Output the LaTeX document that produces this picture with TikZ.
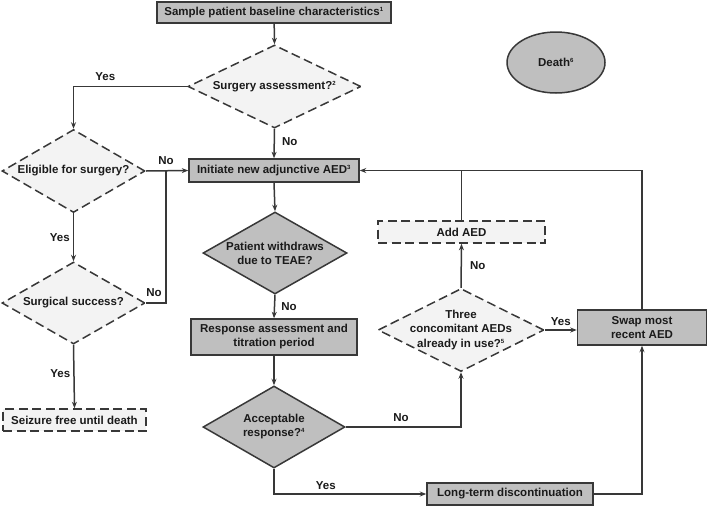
\documentclass[tikz,border=0pt]{standalone}
\usepackage{fontspec}
\setmainfont{Liberation Sans}
\usetikzlibrary{shapes.geometric,arrows.meta}
\newcommand\supn[1]{\textsuperscript{\fontsize{6}{6}\selectfont #1}}
\definecolor{edgec}{HTML}{383838}
\definecolor{darkfill}{HTML}{BFBFBF}
\definecolor{lightfill}{HTML}{F3F3F3}
\definecolor{txtc}{HTML}{1A1A1A}
\tikzset{
  base/.style={draw=edgec, line width=1.5pt, inner sep=0pt, text=txtc,
    font=\fontsize{11.5}{14}\selectfont\bfseries, align=center},
  darkbox/.style={base, rectangle, fill=darkfill},
  lightbox/.style={base, rectangle, fill=lightfill, dash pattern=on 9pt off 4.5pt},
  darkdia/.style={base, diamond, fill=darkfill},
  lightdia/.style={base, diamond, fill=lightfill, dash pattern=on 9pt off 4.5pt},
  lbl/.style={text=txtc, font=\fontsize{11.5}{14}\selectfont\bfseries, align=center, inner sep=0pt},
  conn/.style={draw=edgec, line width=1.5pt},
  arr/.style={conn, -{Stealth[length=6.5pt,width=5pt]}},
}
\begin{document}
\begin{tikzpicture}[x=1pt,y=-1pt]
\useasboundingbox (0,0) rectangle (708,507);
% nodes
\node[darkbox, minimum width=234, minimum height=21] (sample) at (274,12.5) {Sample patient baseline characteristics\supn{1}};
\node[lightdia, minimum width=173, minimum height=83, label={[lbl]center:Surgery assessment?\supn{2}}] (surg) at (274.5,86.5) {};
\node[darkbox, minimum width=170, minimum height=23] (init) at (274,170.5) {Initiate new adjunctive AED\supn{3}};
\node[lightdia, minimum width=143, minimum height=83, label={[lbl]center:Eligible for surgery?}] (elig) at (73.5,171) {};
\node[lightdia, minimum width=143, minimum height=82, label={[lbl]center:Surgical success?}] (succ) at (73.5,303) {};
\node[lightbox, minimum width=143, minimum height=22] (seiz) at (74.5,420) {Seizure free until death};
\node[base, ellipse, fill=darkfill, minimum width=98, minimum height=61] (death) at (556,62.5) {Death\supn{6}};
\node[darkdia, minimum width=144, minimum height=82, label={[lbl,align=center]center:Patient withdraws\\due to TEAE?}] (pat) at (275,253) {};
\node[darkbox, minimum width=166, minimum height=36] (resp) at (274,337) {Response assessment and\\titration period};
\node[darkdia, minimum width=142, minimum height=82, label={[lbl,align=center]center:Acceptable\\response?\supn{4}}] (acc) at (274,427) {};
\node[lightdia, minimum width=166, minimum height=83, label={[lbl,align=center,font=\fontsize{11.5}{14.5}\selectfont\bfseries]center:Three\\concomitant AEDs\\already in use?\supn{5}}] (three) at (461,330) {};
\node[lightbox, minimum width=167, minimum height=22] (add) at (461.5,232) {Add AED};
\node[darkbox, minimum width=129, minimum height=35] (swap) at (642,327.5) {Swap most\\recent AED};
\node[darkbox, minimum width=166, minimum height=22] (long) at (510,494) {Long-term discontinuation};
\coordinate (jn) at (166,171);
\coordinate (ja) at (add.north |- 0,170);
% connectors
\draw[arr] (sample) -- (surg.north);
\draw[arr] (surg.south) -- (init.north) node[lbl, pos=0.45, anchor=west, xshift=7pt] {No};
\draw[arr] (surg.west) -| (elig.north) node[lbl, pos=0.36, above=5pt] {Yes};
\draw[arr] (elig.east) -- (init.west);
\node[lbl] (no1) at (166,161) {No};
\draw[conn] (succ.east) -| (jn);
\node[lbl] (no2) at (154,293) {No};
\draw[arr] (elig.south) -- (succ.north) node[lbl, midway, left=3pt] {Yes};
\draw[arr] (succ.south) -- (seiz.north) node[lbl, pos=0.45, left=3pt] {Yes};
\draw[arr] (init.south) -- (pat.north);
\draw[arr] (pat.south) -- (resp.north) node[lbl, midway, anchor=west, xshift=6pt] {No};
\draw[arr] (resp.south) -- (acc.north);
\draw[arr] (acc.east) -| (three.south) node[lbl, pos=0.24, above=5pt] {No};
\draw[arr] (three.north) -- (add.south) node[lbl, midway, anchor=west, xshift=8pt] {No};
\draw[conn] (add.north) -- (ja);
\draw[arr] (swap.north) |- (init.east);
\draw[arr] (three.east) -- (three.east -| swap.west) node[lbl, midway, above=4pt] {Yes};
\draw[arr] (acc.south) |- (long.west) node[lbl, pos=0.67, above=4pt] {Yes};
\draw[arr] (long.east) -| (swap.south);
\end{tikzpicture}
\end{document}
